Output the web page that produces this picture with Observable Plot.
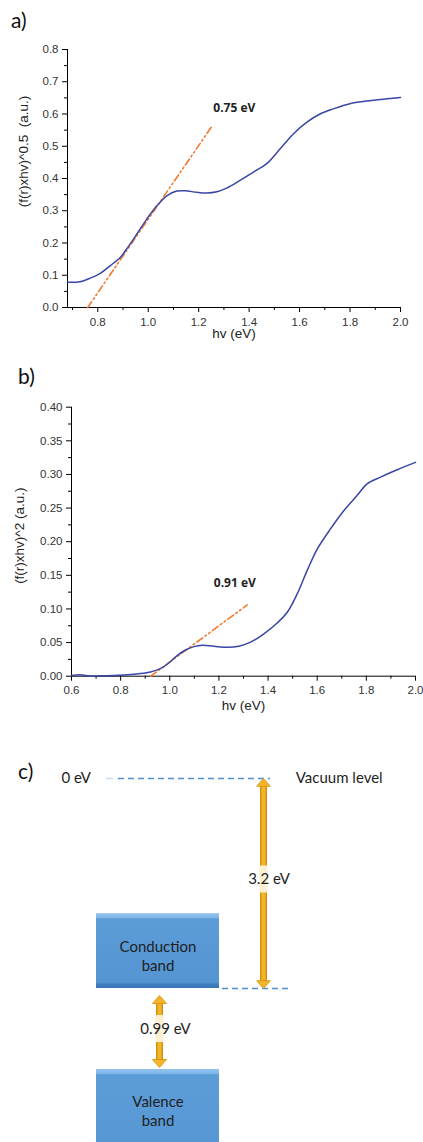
<!DOCTYPE html>
<html><head><meta charset="utf-8">
<script src="https://cdn.jsdelivr.net/npm/d3@7"></script>
<script src="https://cdn.jsdelivr.net/npm/@observablehq/plot@0.6"></script>
<style>
html,body{margin:0;padding:0;background:#fff;}
#page{position:relative;width:423px;height:1142px;overflow:hidden;}
.panel{position:absolute;left:0;}
.tag{position:absolute;font-family:Lato,"Open Sans",sans-serif;font-size:21px;color:#111;line-height:1;}
svg{overflow:visible;}
</style></head><body>
<div id="page">
  <div id="pa" class="panel" style="top:0px"></div>
  <div id="pb" class="panel" style="top:345px"></div>
  <div id="pc" class="panel" style="top:720px"></div>
  <div class="tag" style="left:11px;top:9px">a)</div>
  <div class="tag" style="left:18px;top:365px">b)</div>
  <div class="tag" style="left:18px;top:760px">c)</div>
</div>
<script>
// ---------- Panel a: (F(R)·hv)^0.5 ----------
const hvA = [0.68,0.73,0.77,0.81,0.85,0.89,0.915,0.955,0.995,1.035,1.075,1.113,1.146,1.193,1.232,1.272,1.311,1.364,1.417,1.47,1.523,1.576,1.629,1.681,1.734,1.80,1.866,1.933,2.0];
const fA  = [0.078,0.080,0.091,0.106,0.130,0.156,0.182,0.228,0.275,0.316,0.347,0.361,0.362,0.357,0.355,0.359,0.370,0.394,0.420,0.446,0.492,0.539,0.575,0.600,0.616,0.632,0.640,0.646,0.651];
const tangentHvA = [0.76, 1.255];
const tangentFA  = [0.0, 0.565];
const gapLabelA  = [{hv: 1.258, f: 0.618, text: "0.75 eV"}];
const xTicksA = [0.8,1.0,1.2,1.4,1.6,1.8,2.0];
const xMinorA = [0.7,0.9,1.1,1.3,1.5,1.7,1.9];
const yTicksA = [0,0.1,0.2,0.3,0.4,0.5,0.6,0.7,0.8];
const yMinorA = [0.05,0.15,0.25,0.35,0.45,0.55,0.65,0.75];

// ---------- Panel b: (F(R)·hv)^2 ----------
const hvB = [0.6,0.637,0.664,0.718,0.772,0.827,0.881,0.922,0.949,0.976,1.003,1.03,1.064,1.098,1.132,1.179,1.234,1.281,1.329,1.383,1.437,1.478,1.518,1.559,1.6,1.654,1.708,1.763,1.803,1.858,1.925,2.0];
const fB  = [0.001,0.002,0.0005,0.0005,0.001,0.002,0.004,0.0064,0.0094,0.0144,0.0218,0.0307,0.039,0.044,0.046,0.0446,0.043,0.0446,0.0506,0.063,0.079,0.095,0.122,0.157,0.189,0.219,0.246,0.269,0.286,0.296,0.307,0.318];
const tangentHvB = [0.922, 1.315];
const tangentFB  = [0.0, 0.106];
const gapLabelB  = [{hv: 1.179, f: 0.138, text: "0.91 eV"}];
const xTicksB = [0.6,0.8,1.0,1.2,1.4,1.6,1.8,2.0];
const xMinorB = [0.7,0.9,1.1,1.3,1.5,1.7,1.9];
const yTicksB = [0,0.05,0.10,0.15,0.20,0.25,0.30,0.35,0.40];
const yMinorB = [0.025,0.075,0.125,0.175,0.225,0.275,0.325,0.375];

// ---------- Panel c: band diagram ----------
const levelNames    = ["Vacuum level", "Conduction band", "Valence band"];
const levelEnergies = [0, -3.2, -4.19];
const gapLabels = ["3.2 eV", "0.99 eV"];
const gapFrom   = [0, -3.2];
const gapTo     = [-3.2, -4.19];

// ---------- styles ----------
const BLUE = "#3a46a6", ORANGE = "#f27a2e";
const tickFont = "'Liberation Sans', Arial, sans-serif";

function spectrum(o) {
  const curve = o.hv.map((x, i) => ({hv: x, f: o.f[i]}));
  const tangent = o.tHv.map((x, i) => ({hv: x, f: o.tF[i]}));
  return Plot.plot({
    width: 423, height: o.height,
    marginLeft: o.m[3], marginRight: o.m[1], marginTop: o.m[0], marginBottom: o.m[2],
    style: {fontFamily: tickFont, fontSize: "11.5px", color: "#000", background: "transparent", overflow: "visible"},
    x: {domain: o.xDomain, axis: null},
    y: {domain: o.yDomain, axis: null},
    marks: [
      Plot.axisX(o.xTicks, {tickSize: 5, tickPadding: 5, tickFormat: ".1f", fill: "#333", fontSize: 11.5, label: null}),
      Plot.axisX(o.xMinor, {tickSize: 3, fill: "none", label: null}),
      Plot.axisY(o.yTicks, {tickSize: 5, tickPadding: 4, tickFormat: o.yFormat, fill: "#333", fontSize: 11.5, label: null}),
      Plot.axisY(o.yMinor, {tickSize: 3, fill: "none", label: null}),
      Plot.ruleX([o.xDomain[0]], {stroke: "#000", strokeWidth: 1}),
      Plot.ruleY([o.yDomain[0]], {stroke: "#000", strokeWidth: 1}),
      Plot.line(tangent, {x: "hv", y: "f", stroke: ORANGE, strokeWidth: 1.6, strokeDasharray: "7,3,1.6,3,1.6,3"}),
      Plot.line(curve, {x: "hv", y: "f", curve: "catmull-rom", stroke: BLUE, strokeWidth: 1.5}),
      Plot.text(o.label, {x: "hv", y: "f", text: "text", textAnchor: "start", fontWeight: "bold",
        fontFamily: "'Open Sans', sans-serif", fontSize: 12, fill: "#222"}),
      Plot.text([o.yLabel], {frameAnchor: "left", textAnchor: "middle", rotate: -90, dx: o.yLabelDx, dy: o.yLabelDy, fontSize: 13.5, fill: "#222"}),
      Plot.text(["hv (eV)"], {frameAnchor: "bottom", textAnchor: "middle", dy: o.xLabelDy, fontSize: 13.5, fill: "#222"})
    ]
  });
}

document.getElementById("pa").append(spectrum({
  hv: hvA, f: fA, tHv: tangentHvA, tF: tangentFA, label: gapLabelA,
  xDomain: [0.68, 2.0], yDomain: [0, 0.8], xTicks: xTicksA, xMinor: xMinorA, yTicks: yTicksA, yMinor: yMinorA,
  yFormat: ".1f", yLabel: "(f(r)xhv)^0.5  (a.u.)", height: 345, m: [49, 23, 38, 67],
  yLabelDx: -44, yLabelDy: -27, xLabelDy: 30
}));

document.getElementById("pb").append(spectrum({
  hv: hvB, f: fB, tHv: tangentHvB, tF: tangentFB, label: gapLabelB,
  xDomain: [0.6, 2.0], yDomain: [0, 0.4], xTicks: xTicksB, xMinor: xMinorB, yTicks: yTicksB, yMinor: yMinorB,
  yFormat: ".2f", yLabel: "(f(r)xhv)^2 (a.u.)", height: 380, m: [61.7, 8, 49.3, 71],
  yLabelDx: -52, yLabelDy: -6, xLabelDy: 34
}));

// ---------- band diagram (schematic, not to scale) ----------
const bandThickness = [1.14, 1.6]; // schematic box heights in eV (valence box runs off the page)
const labelDepth = 0.57;           // band label sits this far inside each box
const gapStretch = 1.2465;         // the 0.99 eV gap is drawn enlarged in the schematic
const schematic = e => e >= levelEnergies[1] ? e
  : e >= levelEnergies[2] ? levelEnergies[1] + (e - levelEnergies[1]) * gapStretch
  : levelEnergies[1] + (levelEnergies[2] - levelEnergies[1]) * gapStretch + (e - levelEnergies[2]);
const bands = levelNames.slice(1).map((name, i) => {
  const sign = i === 0 ? 1 : -1;
  return {name, edge: levelEnergies[i + 1], outer: levelEnergies[i + 1] + sign * bandThickness[i],
          labelAt: levelEnergies[i + 1] + sign * labelDepth};
});
const gaps = gapLabels.map((label, i) => ({label, from: gapFrom[i], to: gapTo[i], mid: (gapFrom[i] + gapTo[i]) / 2}));
const gapStyle = [
  {dx: 105.5, labelDx: 111, labelDy: -4, topDy: 0, botDy: 0, r: 6},
  {dx: 1.5, labelDx: 7.5, labelDy: 0, topDy: 7, botDy: -2, r: 6.2}
];
const upHead = {draw(ctx, size) { const r = Math.sqrt(size / Math.PI); const w = r * 1.15, h = r * 1.3;
  ctx.moveTo(0, 0); ctx.lineTo(w, h); ctx.lineTo(-w, h); ctx.closePath(); }};
const downHead = {draw(ctx, size) { const r = Math.sqrt(size / Math.PI); const w = r * 1.15, h = r * 1.3;
  ctx.moveTo(0, 0); ctx.lineTo(w, -h); ctx.lineTo(-w, -h); ctx.closePath(); }};
const DASH = "#4f8fd0", GOLD = "#f5b528", GOLD_DARK = "#d39210", TXT = "#1e1e1e";
const labelFont = "Lato, 'Open Sans', sans-serif";

const gapMarks = gaps.flatMap((g, i) => {
  const s = gapStyle[i];
  return [
    Plot.ruleX([g], {x: () => "bands", y1: "from", y2: "to", dx: s.dx, stroke: GOLD_DARK, strokeWidth: 7,
      insetTop: s.topDy + 5, insetBottom: -s.botDy + 5}),
    Plot.ruleX([g], {x: () => "bands", y1: "from", y2: "to", dx: s.dx, stroke: GOLD, strokeWidth: 4,
      insetTop: s.topDy + 5, insetBottom: -s.botDy + 5}),
    Plot.dot([g], {x: () => "bands", y: "from", dx: s.dx, dy: s.topDy, symbol: upHead, r: s.r, fill: GOLD, stroke: GOLD_DARK, strokeWidth: 0.8}),
    Plot.dot([g], {x: () => "bands", y: "to", dx: s.dx, dy: s.botDy, symbol: downHead, r: s.r, fill: GOLD, stroke: GOLD_DARK, strokeWidth: 0.8}),
    Plot.ruleX([g], {x: () => "bands", y1: "mid", y2: "mid", dx: s.dx, dy: s.labelDy, stroke: "#fcefd2", strokeWidth: 8,
      insetTop: -13.5, insetBottom: -13.5}),
    Plot.text([g], {x: () => "bands", y: "mid", text: "label", dx: s.labelDx, dy: s.labelDy, fontSize: 15, fill: TXT, fontFamily: labelFont})
  ];
});

const pc = Plot.plot({
  width: 423, height: 422, margin: 0,
  style: {background: "transparent", overflow: "visible", fontFamily: labelFont},
  x: {type: "band", domain: ["bands"], range: [96, 219], padding: 0, axis: null},
  y: {type: "linear", transform: schematic, domain: [levelEnergies[0], levelEnergies[1]], range: [58, 268], axis: null},
  marks: [
    Plot.ruleY([levelEnergies[0]], {stroke: "#c9ddf1", strokeWidth: 1.6, insetLeft: 106, insetRight: 310}),
    Plot.ruleY([levelEnergies[0]], {stroke: DASH, strokeWidth: 1.6, strokeDasharray: "6,4", insetLeft: 118, insetRight: 153}),
    Plot.ruleY([levelEnergies[1]], {stroke: DASH, strokeWidth: 1.6, strokeDasharray: "6,4", insetLeft: 222, insetRight: 133}),
    Plot.barY(bands.slice(0, 1), {x: () => "bands", y1: "edge", y2: "outer", fill: "url(#bandGrad)"}),
    Plot.barY(bands.slice(1), {x: () => "bands", y1: "edge", y2: "outer", fill: "url(#bandGradTop)"}),
    Plot.text(bands, {x: () => "bands", y: "labelAt", text: d => d.name.replace(" ", "\n"), dy: 4, fontSize: 15,
      lineHeight: 1.27, fill: TXT, fontFamily: labelFont}),
    Plot.text([levelNames[0]], {x: () => "bands", y: () => levelEnergies[0], text: d => d, dx: 137.8, textAnchor: "start", fontSize: 15, fill: TXT}),
    Plot.text(["0 eV"], {x: () => "bands", y: () => levelEnergies[0], text: d => d, dx: -96.5, textAnchor: "start", fontSize: 15, fill: TXT}),
    ...gapMarks
  ]
});
d3.select(pc).insert("defs", ":first-child").html(`
  <linearGradient id="bandGrad" x1="0" y1="0" x2="0" y2="1">
    <stop offset="0" stop-color="#93c4ef"/>
    <stop offset="0.06" stop-color="#7fb5e8"/>
    <stop offset="0.075" stop-color="#5c9cd7"/>
    <stop offset="0.92" stop-color="#5495d2"/>
    <stop offset="0.95" stop-color="#3f7fc1"/>
    <stop offset="1" stop-color="#3a75b5"/>
  </linearGradient>
  <linearGradient id="bandGradTop" x1="0" y1="0" x2="0" y2="1">
    <stop offset="0" stop-color="#93c4ef"/>
    <stop offset="0.045" stop-color="#7fb5e8"/>
    <stop offset="0.055" stop-color="#5c9cd7"/>
    <stop offset="1" stop-color="#5596d3"/>
  </linearGradient>`);
document.getElementById("pc").append(pc);
</script>
</body></html>
